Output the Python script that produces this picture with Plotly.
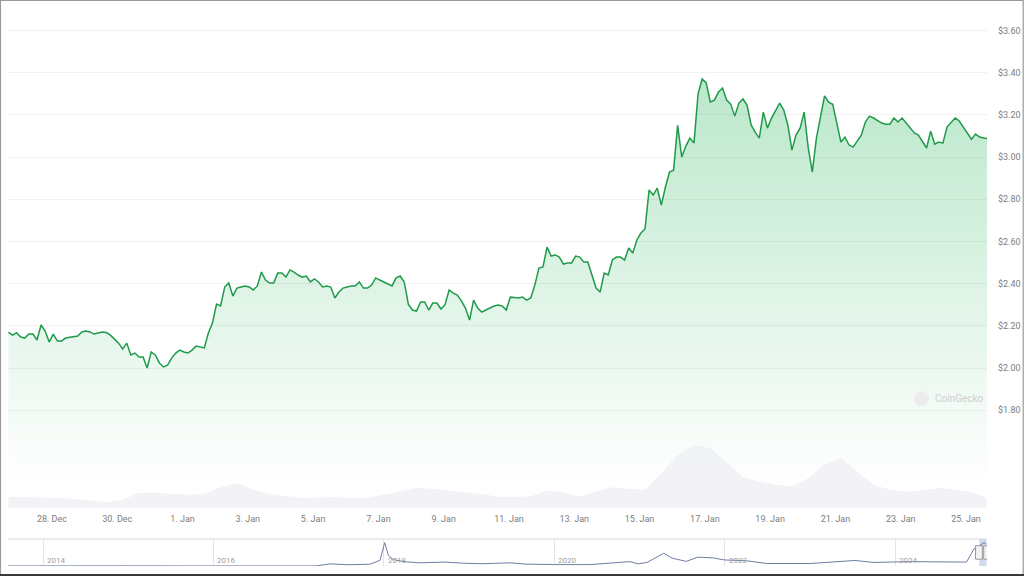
import pandas as pd
import plotly.graph_objects as go

# ---------------- data ----------------
price_start = "2024-12-26 16:00"
price_step = "3h"
prices = [
    2.169, 2.156, 2.167, 2.147, 2.142, 2.161, 2.161, 2.133, 2.204, 2.175,
    2.123, 2.161, 2.128, 2.128, 2.142, 2.145, 2.149, 2.152, 2.171, 2.175,
    2.171, 2.161, 2.166, 2.171, 2.168, 2.156, 2.137, 2.118, 2.090, 2.118,
    2.062, 2.071, 2.052, 2.052, 2.000, 2.076, 2.062, 2.024, 2.005, 2.014,
    2.047, 2.071, 2.085, 2.076, 2.071, 2.085, 2.104, 2.100, 2.095, 2.166,
    2.213, 2.303, 2.294, 2.384, 2.403, 2.341, 2.379, 2.384, 2.389, 2.384,
    2.370, 2.389, 2.455, 2.417, 2.403, 2.403, 2.450, 2.450, 2.431, 2.465,
    2.455, 2.441, 2.431, 2.436, 2.408, 2.422, 2.408, 2.384, 2.389, 2.384,
    2.332, 2.360, 2.379, 2.384, 2.389, 2.389, 2.408, 2.379, 2.379, 2.393,
    2.427, 2.417, 2.408, 2.398, 2.389, 2.427, 2.436, 2.408, 2.303, 2.275,
    2.270, 2.313, 2.313, 2.275, 2.308, 2.308, 2.280, 2.300, 2.370, 2.355,
    2.346, 2.318, 2.284, 2.227, 2.322, 2.284, 2.265, 2.275, 2.284, 2.294,
    2.299, 2.294, 2.275, 2.336, 2.334, 2.332, 2.336, 2.322, 2.332, 2.393,
    2.474, 2.479, 2.573, 2.531, 2.536, 2.526, 2.493, 2.498, 2.498, 2.531,
    2.526, 2.502, 2.502, 2.441, 2.379, 2.360, 2.450, 2.441, 2.512, 2.526,
    2.526, 2.512, 2.569, 2.545, 2.607, 2.640, 2.659, 2.844, 2.820, 2.853,
    2.772, 2.858, 2.929, 2.938, 3.150, 3.000, 3.052, 3.090, 3.066, 3.300,
    3.370, 3.351, 3.261, 3.270, 3.308, 3.327, 3.270, 3.251, 3.194, 3.256,
    3.275, 3.246, 3.152, 3.118, 3.090, 3.213, 3.137, 3.185, 3.223, 3.256,
    3.223, 3.152, 3.033, 3.104, 3.137, 3.213, 3.043, 2.929, 3.090, 3.199,
    3.290, 3.260, 3.250, 3.161, 3.071, 3.095, 3.057, 3.047, 3.076, 3.104,
    3.166, 3.194, 3.185, 3.175, 3.161, 3.156, 3.156, 3.185, 3.166, 3.185,
    3.161, 3.142, 3.114, 3.104, 3.071, 3.043, 3.123, 3.061, 3.071, 3.066,
    3.142, 3.166, 3.185, 3.171, 3.142, 3.118, 3.085, 3.109, 3.095, 3.090,
    3.088,
]

volume_start = "2024-12-26 16:00"
volume_step = "12h"
volumes_bn = [
    0.66, 0.66, 0.64, 0.60, 0.55, 0.45, 0.35, 0.50, 0.90, 0.92,
    0.84, 0.80, 0.85, 1.25, 1.50, 1.10, 0.85, 0.72, 0.60, 0.63,
    0.65, 0.60, 0.62, 0.80, 1.00, 1.20, 1.15, 1.05, 0.97, 0.85,
    0.68, 0.66, 0.70, 1.05, 0.95, 0.68, 1.00, 1.25, 1.15, 1.10,
    2.10, 3.20, 3.80, 3.60, 2.75, 1.85, 1.60, 1.40, 1.30, 1.80,
    2.60, 3.00, 2.20, 1.40, 1.10, 0.98, 1.05, 1.20, 1.10, 0.95, 0.60,
]

nav_dates = [
    "2013-08-04", "2013-12-01", "2014-01-15", "2014-06-01", "2015-01-01",
    "2016-01-01", "2017-01-01", "2017-03-15", "2017-05-15", "2017-08-01",
    "2017-11-01", "2017-12-15", "2018-01-04", "2018-01-20", "2018-02-10",
    "2018-04-01", "2018-06-01", "2018-09-20", "2018-12-01", "2019-03-01",
    "2019-06-25", "2019-09-01", "2020-01-01", "2020-06-01", "2020-11-20",
    "2020-12-25", "2021-02-01", "2021-04-14", "2021-05-20", "2021-07-20",
    "2021-09-06", "2021-11-10", "2022-01-01", "2022-04-01", "2022-07-01",
    "2023-01-01", "2023-07-13", "2023-10-01", "2024-03-01", "2024-08-01",
    "2024-11-01", "2024-12-03", "2025-01-16", "2025-01-25",
]
nav_prices = [
    0.005, 0.02, 0.025, 0.006, 0.02,
    0.006, 0.006, 0.01, 0.30, 0.18,
    0.25, 0.80, 3.30, 1.50, 0.90,
    0.60, 0.45, 0.55, 0.40, 0.32,
    0.45, 0.27, 0.20, 0.20, 0.62,
    0.30, 0.50, 1.80, 1.10, 0.65,
    1.25, 1.15, 0.85, 0.75, 0.35,
    0.35, 0.78, 0.50, 0.62, 0.58,
    0.55, 2.40, 3.30, 3.10,
]

price_tick_vals = [1.8, 2.0, 2.2, 2.4, 2.6, 2.8, 3.0, 3.2, 3.4, 3.6]
price_tick_text = ["$1.80", "$2.00", "$2.20", "$2.40", "$2.60", "$2.80",
                   "$3.00", "$3.20", "$3.40", "$3.60"]
date_tick_vals = ["2024-12-28", "2024-12-30", "2025-01-01", "2025-01-03",
                  "2025-01-05", "2025-01-07", "2025-01-09", "2025-01-11",
                  "2025-01-13", "2025-01-15", "2025-01-17", "2025-01-19",
                  "2025-01-21", "2025-01-23", "2025-01-25"]
date_tick_text = ["28. Dec", "30. Dec", "1. Jan", "3. Jan", "5. Jan", "7. Jan",
                  "9. Jan", "11. Jan", "13. Jan", "15. Jan", "17. Jan",
                  "19. Jan", "21. Jan", "23. Jan", "25. Jan"]
nav_tick_vals = ["2014-01-01", "2016-01-01", "2018-01-01", "2020-01-01",
                 "2022-01-01", "2024-01-01"]
nav_tick_text = ["2014", "2016", "2018", "2020", "2022", "2024"]

# ---------------- figure ----------------
price_times = pd.date_range(price_start, periods=len(prices), freq=price_step)
volume_times = pd.date_range(volume_start, periods=len(volumes_bn), freq=volume_step)

GREEN = "#1f9a4a"
LABEL = "#7d7d7d"
FONT = "Roboto"

fig = go.Figure()

fig.add_trace(go.Scatter(
    x=volume_times, y=volumes_bn, xaxis="x", yaxis="y2",
    mode="lines", line=dict(width=0, color="rgba(0,0,0,0)"),
    fill="tozeroy", fillcolor="rgba(236,237,244,0.7)",
    hoverinfo="skip", showlegend=False,
))

fig.add_trace(go.Scatter(
    x=price_times, y=prices, xaxis="x", yaxis="y",
    mode="lines", line=dict(color=GREEN, width=1.5),
    fill="tozeroy",
    fillgradient=dict(
        type="vertical", start=1.45, stop=3.45,
        colorscale=[[0, "rgba(0,168,62,0)"], [1, "rgba(0,168,62,0.28)"]],
    ),
    showlegend=False,
))

fig.add_trace(go.Scatter(
    x=nav_dates, y=nav_prices, xaxis="x2", yaxis="y3",
    mode="lines", line=dict(color="#6f7ea3", width=1),
    hoverinfo="skip", showlegend=False,
))

main_dom = [0.1043, 1.0]
nav_dom = [0.0, 0.0486]

fig.update_layout(
    width=1024, height=576,
    margin=dict(l=8, r=37, t=10, b=10, autoexpand=False),
    paper_bgcolor="white", plot_bgcolor="white",
    font=dict(family=FONT, size=9, color=LABEL),
    showlegend=False,
    xaxis=dict(
        domain=[0, 1], anchor="y", automargin=False,
        range=["2024-12-26 15:42", "2025-01-25 15:25"],
        tickmode="array", tickvals=date_tick_vals, ticktext=date_tick_text,
        showgrid=False, zeroline=False, showline=False, ticks="",
        tickfont=dict(size=9, color=LABEL, family=FONT),
        ticklabelstandoff=4,
    ),
    yaxis=dict(
        domain=main_dom, anchor="x", side="right", automargin=False,
        range=[1.3365, 3.697],
        tickmode="array", tickvals=price_tick_vals, ticktext=price_tick_text,
        showgrid=True, gridcolor="#f1f1f1", gridwidth=1,
        zeroline=False, showline=False, ticks="",
        tickfont=dict(size=9, color=LABEL, family=FONT),
        ticklabelstandoff=10,
    ),
    yaxis2=dict(
        domain=main_dom, overlaying="y", anchor="x", automargin=False,
        range=[0, 30], visible=False,
    ),
    xaxis2=dict(
        domain=[0, 1], anchor="y3", automargin=False,
        range=["2013-08-04", "2025-01-28"],
        tickmode="array", tickvals=nav_tick_vals, ticktext=[""] * len(nav_tick_vals),
        showgrid=True, gridcolor="#e4e4e4", gridwidth=1,
        zeroline=False, showline=False, ticks="", showticklabels=False,
    ),
    yaxis3=dict(
        domain=nav_dom, anchor="x2", automargin=False,
        range=[0, 3.82], visible=False,
    ),
)

for tv, tt in zip(nav_tick_vals, nav_tick_text):
    fig.add_annotation(
        text=tt, xref="x2", yref="y3 domain", x=tv, y=-0.05,
        xanchor="left", yanchor="bottom", xshift=2, showarrow=False,
        font=dict(family=FONT, size=8, color="#a0a0a0"),
    )

shapes = [
    # navigator top border
    dict(type="line", xref="paper", yref="y3 domain", x0=0, x1=1, y0=1, y1=1,
         line=dict(color="#dcdcdc", width=1)),
    # navigator selection
    dict(type="rect", xref="x2", yref="y3 domain",
         x0="2024-12-26", x1="2025-01-26", y0=0, y1=1,
         fillcolor="rgba(102,133,194,0.3)", line=dict(width=0), layer="below"),
    dict(type="rect", xref="x2", yref="y3 domain",
         x0="2024-12-10", x1="2025-01-08", y0=0.25, y1=0.75,
         fillcolor="#f2f2f2", line=dict(color="#999999", width=1)),
    dict(type="rect", xref="x2", yref="y3 domain",
         x0="2025-01-14", x1="2025-02-08", y0=0.25, y1=0.75,
         fillcolor="#f2f2f2", line=dict(color="#999999", width=1)),
    # watermark logo
    dict(type="circle", xref="paper", yref="paper",
         x0=(914 - 8) / 979, x1=(929 - 8) / 979,
         y0=(566 - 406) / 556, y1=(566 - 391) / 556,
         fillcolor="#ececec", line=dict(width=0)),
    # outer frame
    dict(type="rect", xref="paper", yref="paper",
         x0=(0.5 - 8) / 979, x1=(1023.2 - 8) / 979,
         y0=(566 - 574.5) / 556, y1=(566 - 0.5) / 556,
         line=dict(color="#9a9a9a", width=1.2), fillcolor="rgba(0,0,0,0)"),
    dict(type="line", xref="paper", yref="paper",
         x0=(0 - 8) / 979, x1=(1024 - 8) / 979,
         y0=(566 - 575) / 556, y1=(566 - 575) / 556,
         line=dict(color="#3a3a3a", width=2)),
]
fig.update_layout(shapes=shapes)

fig.add_annotation(
    text="CoinGecko", xref="paper", yref="paper",
    x=(933 - 8) / 979, y=(566 - 398) / 556,
    xanchor="left", yanchor="middle", showarrow=False,
    font=dict(family=FONT, size=10, color="#cfcfcf"),
)

fig.write_html("out.html")
